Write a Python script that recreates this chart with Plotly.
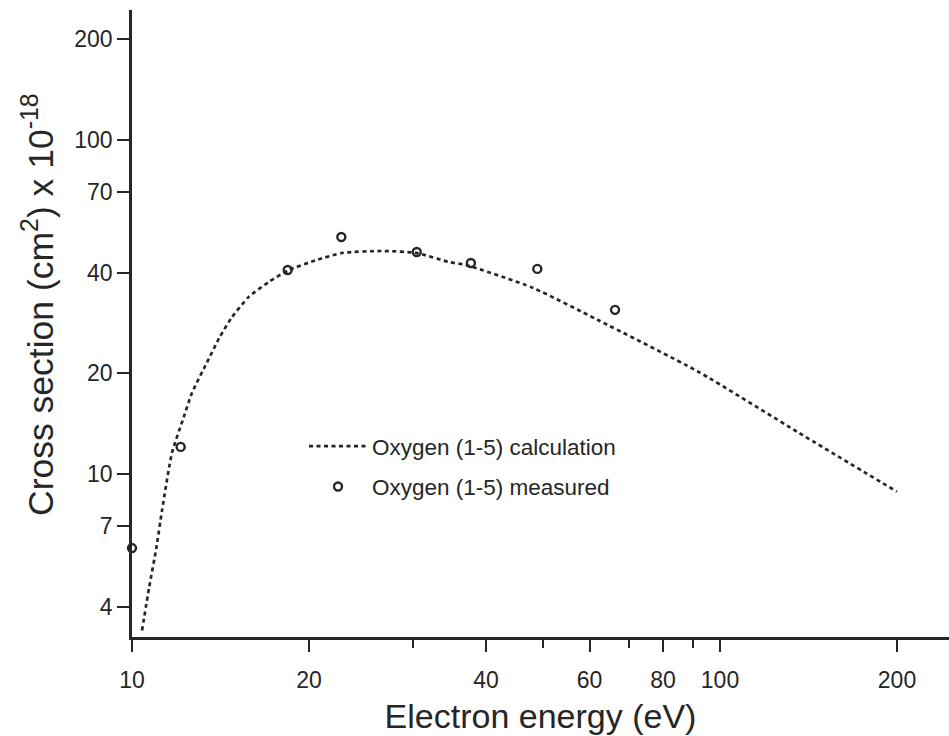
import numpy as np
import plotly.graph_objects as go

# Calculated curve
energy_calc = [10.4, 10.7, 11.0, 11.25, 11.7, 12.2, 12.65, 13.4, 14.1, 14.8, 15.8,
               17.1, 18.5, 20.6, 22.8, 26.6, 30.4, 34.6, 37.0, 48.0, 62.0, 92.0,
               136.0, 200.0]
sigma_calc = [3.4, 4.6, 6.0, 7.8, 11.6, 14.5, 17.5, 21.5, 25.7, 29.5, 33.9,
              37.6, 40.8, 43.7, 45.9, 46.5, 45.9, 43.1, 42.2, 36.1, 28.9, 20.2,
              13.3, 8.85]

# Measured points
energy_meas = [10.0, 12.1, 18.4, 22.7, 30.5, 37.7, 48.9, 66.3]
sigma_meas = [6.0, 12.05, 40.8, 51.2, 46.2, 42.8, 41.1, 31.0]

x_ticks = [10, 20, 40, 60, 80, 100, 200]
x_minor = [30, 50, 70, 90]
y_ticks = [4, 7, 10, 20, 40, 70, 100, 200]

y_title = "Cross section (cm<sup>2</sup>) x 10<sup>-18</sup>"
x_title = "Electron energy (eV)"

INK = "#262626"
FONT = "Liberation Sans, Arial, sans-serif"

fig = go.Figure()
fig.add_trace(go.Scatter(
    x=energy_calc, y=sigma_calc, mode="lines",
    name="Oxygen (1-5) calculation", legendgroup="a",
    line=dict(color=INK, width=2.7, dash="4px,3.5px", shape="spline", smoothing=0.6),
    cliponaxis=False,
))
fig.add_trace(go.Scatter(
    x=energy_meas, y=sigma_meas, mode="markers",
    name="Oxygen (1-5) measured", legendgroup="b",
    marker=dict(symbol="circle-open", size=8, color=INK, line=dict(width=2.4, color=INK)),
    cliponaxis=False,
))

fig.update_layout(
    width=949, height=736,
    margin=dict(l=132, r=0, t=10, b=99),
    paper_bgcolor="white", plot_bgcolor="white",
    font=dict(family=FONT, color=INK, size=22),
    showlegend=True,
    legend=dict(
        x=(304 - 132) / 817, y=0.338, xanchor="left", yanchor="top",
        bgcolor="rgba(0,0,0,0)", borderwidth=0,
        font=dict(size=22.5, color=INK), tracegroupgap=8,
        traceorder="grouped", itemwidth=58,
    ),
    xaxis=dict(
        type="log", range=[1, 2.3895], automargin=False,
        showline=True, linecolor=INK, linewidth=2.5,
        showgrid=False, zeroline=False,
        ticks="outside", ticklen=12, tickwidth=2, tickcolor=INK,
        tickmode="array", tickvals=x_ticks, ticktext=[str(v) for v in x_ticks],
        minor=dict(tickmode="array", tickvals=x_minor, ticks="outside",
                   ticklen=8, tickwidth=2, tickcolor=INK),
        tickfont=dict(size=23, color=INK), ticklabelstandoff=9,
        title=dict(text=x_title, font=dict(size=34, color=INK), standoff=12),
    ),
    yaxis=dict(
        type="log", range=[np.log10(3.25), 2.389], automargin=False,
        showline=True, linecolor=INK, linewidth=2.5,
        showgrid=False, zeroline=False,
        ticks="outside", ticklen=12, tickwidth=2, tickcolor=INK,
        tickmode="array", tickvals=y_ticks, ticktext=[str(v) for v in y_ticks],
        tickfont=dict(size=23, color=INK),
    ),
    annotations=[dict(
        text=y_title, textangle=-90, showarrow=False,
        xref="paper", yref="paper",
        x=(38 - 132) / 817, y=(637 - 305) / 627,
        xanchor="center", yanchor="middle",
        font=dict(size=35.5, color=INK, family=FONT),
    )],
)

fig.write_html(
    "out.html",
    config={"displayModeBar": False},
    post_script="document.body.style.margin='0';document.body.style.overflow='hidden';",
)
